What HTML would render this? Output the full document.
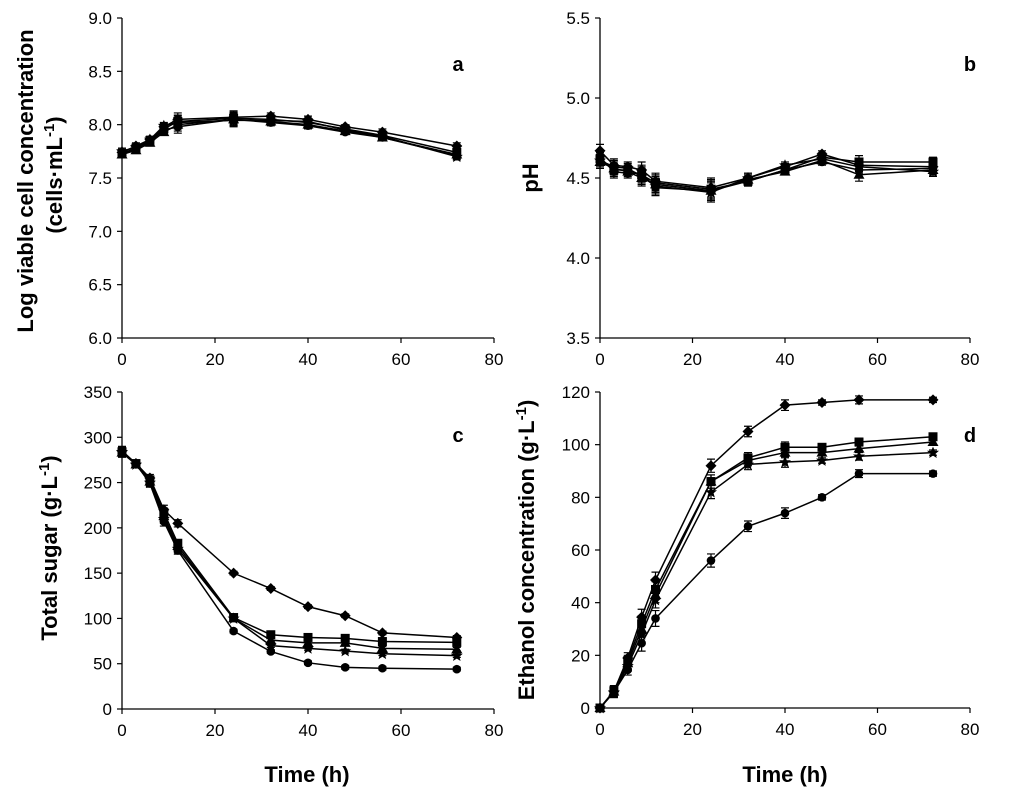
<!DOCTYPE html>
<html><head><meta charset="utf-8"><style>
html,body{margin:0;padding:0;background:#fff;}
svg{display:block;font-family:"Liberation Sans",Arial,sans-serif;}
</style></head><body>
<svg id="fig" width="1024" height="801" viewBox="0 0 1024 801" xmlns="http://www.w3.org/2000/svg"></svg>
<script>
const times=[0,3,6,9,12,24,32,40,48,56,72];
// Panel a: log viable cells
const aS1=[7.74,7.80,7.86,7.98,8.05,8.07,8.08,8.05,7.98,7.93,7.80];
const aS2=[7.73,7.78,7.85,7.96,8.03,8.06,8.05,8.02,7.96,7.90,7.74];
const aS3=[7.72,7.76,7.83,7.93,8.00,8.05,8.03,8.00,7.94,7.88,7.72];
const aS4=[7.75,7.79,7.86,7.99,8.02,8.04,8.04,8.03,7.95,7.89,7.70];
const aS5=[7.73,7.77,7.84,7.95,7.98,8.05,8.02,7.99,7.93,7.88,7.71];
// Panel b: pH
const bS1=[4.67,4.58,4.57,4.55,4.48,4.44,4.50,4.57,4.65,4.58,4.57];
const bS2=[4.62,4.55,4.55,4.52,4.47,4.43,4.48,4.55,4.63,4.60,4.60];
const bS3=[4.60,4.56,4.54,4.50,4.46,4.42,4.49,4.54,4.61,4.52,4.55];
const bS4=[4.61,4.57,4.56,4.51,4.45,4.41,4.50,4.58,4.62,4.57,4.54];
const bS5=[4.63,4.54,4.53,4.53,4.44,4.42,4.48,4.55,4.60,4.55,4.56];
// Panel c: total sugar
const cS1=[285,271,255,220,205,150,133,113,103,84,79];
const cS2=[284,271,253,217,183,101,82,79,78,74.5,73.5];
const cS3=[283,270,251,213,180,100,76,73,73,67,66];
const cS4=[284,270,250,210,177,100,70,67,64,61,59];
const cS5=[283,271,249,207,175,86,63.5,51,46,45,44];
// Panel d: ethanol
const dS1=[0,6.3,19,34.5,48.6,92,105,115,116,117,117];
const dS2=[0,6.5,18,32,45,86,95,99,99,101,103];
const dS3=[0,6.2,17,30,43,86,94,97,97,98.5,101];
const dS4=[0,6.0,16,28,41,82,92.5,93.4,94,95.6,97];
const dS5=[0,6.0,14.5,24.6,34,56,69,74,80,89,89];
const errA=[0.03,0.03,0.03,0.03,0.06,0.06,0.03,0.03,0.02,0.03,0.03];
const errB=[0.04,0.04,0.03,0.05,0.05,0.06,0.03,0.02,0.02,0.04,0.03];
const errC=[5,3,4,5,4,2,2,2,2,2,2];
const errD=[1,2,2,3,3,2.5,2,2,1,1.5,1];
const xTicks=[0,20,40,60,80];
const aTicks=["6.0","6.5","7.0","7.5","8.0","8.5","9.0"];
const bTicks=["3.5","4.0","4.5","5.0","5.5"];
const cTicks=["0","50","100","150","200","250","300","350"];
const dTicks=["0","20","40","60","80","100","120"];
const markers=["diamond","square","triangle","star","circle"];

const svg=document.getElementById('fig');
const NS="http://www.w3.org/2000/svg";
function mk(tag,attrs,parent){const e=document.createElementNS(NS,tag);for(const k in attrs)e.setAttribute(k,attrs[k]);(parent||svg).appendChild(e);return e;}

function panel(cfg){
  const g=mk('g',{});
  
  
  const X=v=>cfg.x0+(v-0)/80*(cfg.x1-cfg.x0);
  const Y=v=>cfg.y0-(v-cfg.ymin)/(cfg.ymax-cfg.ymin)*(cfg.y0-cfg.y1);
  const ax=mk('path',{d:`M${cfg.x0},${cfg.y1}V${cfg.y0}H${cfg.x1}`,stroke:'#000','stroke-width':1.3,fill:'none'},g);
  
  
  xTicks.forEach(t=>{
    mk('line',{x1:X(t),x2:X(t),y1:cfg.y0,y2:cfg.y0+5,stroke:'#000','stroke-width':1.2},g);
    const tx=mk('text',{x:X(t),y:cfg.y0+27,'text-anchor':'middle','font-size':17},g);
    tx.textContent=t;
    
    
  });
  cfg.ticks.forEach(t=>{
    const v=parseFloat(t);
    mk('line',{x1:cfg.x0-5,x2:cfg.x0,y1:Y(v),y2:Y(v),stroke:'#000','stroke-width':1.2},g);
    const tx=mk('text',{x:cfg.x0-10,y:Y(v)+6,'text-anchor':'end','font-size':17},g);
    tx.textContent=t;
    
    
  });
  cfg.series.forEach((s,i)=>{
    const sg=mk('g',{},g);
    
    
    mk('polyline',{points:s.map((v,j)=>X(times[j])+','+Y(v)).join(' '),fill:'none',stroke:'#000','stroke-width':1.5},sg);
    s.forEach((v,j)=>{
      const px=X(times[j]),py=Y(v),e=cfg.err[j];
      if(e>0){
        const ya=Y(v+e),yb=Y(v-e);
        mk('path',{d:`M${px},${ya}V${yb}M${px-4},${ya}H${px+4}M${px-4},${yb}H${px+4}`,stroke:'#000','stroke-width':1.2},sg);
      }
      drawMarker(sg,markers[i],px,py);
    });
  });
  const lt=mk('text',{x:cfg.lx,y:cfg.ly,'font-size':20,'font-weight':'bold','text-anchor':'middle'},g);
  lt.textContent=cfg.letter;
  
  
}
function drawMarker(g,type,x,y){
  let m;
  if(type==='diamond')m=mk('path',{d:`M${x},${y-5.5}L${x+5.5},${y}L${x},${y+5.5}L${x-5.5},${y}Z`},g);
  else if(type==='square')m=mk('rect',{x:x-4.5,y:y-4.5,width:9,height:9},g);
  else if(type==='triangle')m=mk('path',{d:`M${x},${y-5.5}L${x+5.5},${y+4}L${x-5.5},${y+4}Z`},g);
  else if(type==='star')m=mk('path',{d:`M${x},${y-6}L${x+1.8},${y-1.8}L${x+6},${y-1.8}L${x+2.6},${y+1.2}L${x+3.8},${y+5.4}L${x},${y+3}L${x-3.8},${y+5.4}L${x-2.6},${y+1.2}L${x-6},${y-1.8}L${x-1.8},${y-1.8}Z`},g);
  else m=mk('circle',{cx:x,cy:y,r:4.3},g);
  m.setAttribute('fill','#000');
  
  
}
panel({name:'panel-a',x0:122,x1:494,y0:338,y1:18,ymin:6,ymax:9,ticks:aTicks,series:[aS1,aS2,aS3,aS4,aS5],err:errA,letter:'a',lx:458,ly:71});
panel({name:'panel-b',x0:600,x1:970,y0:338,y1:18,ymin:3.5,ymax:5.5,ticks:bTicks,series:[bS1,bS2,bS3,bS4,bS5],err:errB,letter:'b',lx:970,ly:71});
panel({name:'panel-c',x0:122,x1:494,y0:709,y1:392,ymin:0,ymax:350,ticks:cTicks,series:[cS1,cS2,cS3,cS4,cS5],err:errC,letter:'c',lx:458,ly:442});
panel({name:'panel-d',x0:600,x1:970,y0:708,y1:392,ymin:0,ymax:120,ticks:dTicks,series:[dS1,dS2,dS3,dS4,dS5],err:errD,letter:'d',lx:970,ly:442});

function title(txt,x,y,rot,name,sup){
  const t=mk('text',{x:x,y:y,'font-size':22,'font-weight':'bold','text-anchor':'middle',transform:rot?`rotate(-90 ${x} ${y})`:''});
  
  
  if(sup){
    const a=mk('tspan',{},t);a.textContent=txt;
    const s=mk('tspan',{'baseline-shift':'super','font-size':15},t);s.textContent='-1';
    const c=mk('tspan',{},t);c.textContent=')';
  } else t.textContent=txt;
}
title('Log viable cell concentration',33,181,true,'y-axis-title-a');
title('(cells·mL',62,175,true,'y-axis-title-a-units',true);
title('pH',538,178,true,'y-axis-title-b');
title('Total sugar (g·L',57,548,true,'y-axis-title-c',true);
title('Ethanol concentration (g·L',534,550,true,'y-axis-title-d',true);
title('Time (h)',307,782,false,'x-axis-title-c');
title('Time (h)',785,782,false,'x-axis-title-d');
</script>
</body></html>
